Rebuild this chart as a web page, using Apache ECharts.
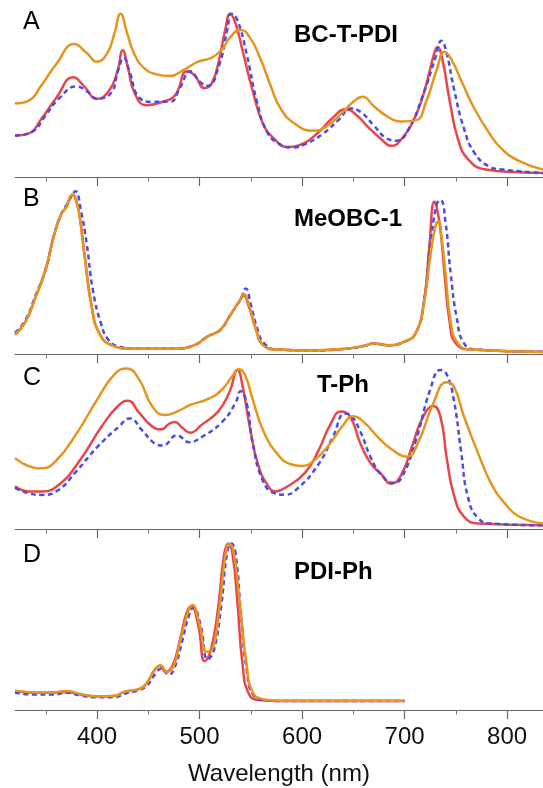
<!DOCTYPE html>
<html><head><meta charset="utf-8">
<script src="https://cdn.jsdelivr.net/npm/echarts@6/dist/echarts.min.js"></script>
<style>html,body{margin:0;padding:0;background:#fff}#c{width:543px;height:788px}</style>
</head><body><div id="c"></div>
<script>
// ---------- data ----------
const xMin = 320, xMax = 835;
const majorTicks = [400, 500, 600, 700, 800];
const minorTicks = [350, 450, 550, 650, 750];
const panelLetters = ['A', 'B', 'C', 'D'];
const panelNames = ['BC-T-PDI', 'MeOBC-1', 'T-Ph', 'PDI-Ph'];
const xTitle = 'Wavelength (nm)';

// Panel A: BC-T-PDI
const A_red = [[320,0.234],[333,0.245],[346,0.33],[360,0.445],[377,0.563],[387,0.515],[400,0.441],[412,0.49],[420,0.60],[425,0.716],[430,0.62],[437,0.47],[448,0.406],[464,0.425],[476,0.46],[488,0.598],[495,0.575],[505,0.502],[512,0.53],[519,0.66],[525,0.83],[530,0.923],[535,0.87],[542,0.713],[552,0.483],[562,0.30],[573,0.215],[585,0.17],[600,0.186],[616,0.253],[630,0.335],[643,0.383],[654,0.345],[664,0.285],[677,0.215],[687,0.176],[697,0.215],[711,0.349],[721,0.521],[728,0.68],[732,0.735],[737,0.66],[744,0.43],[752,0.215],[762,0.10],[779,0.042],[812,0.027],[835,0.023]];
const A_blue = [[320,0.234],[336,0.253],[350,0.349],[363,0.444],[380,0.511],[390,0.485],[400,0.444],[413,0.47],[421,0.61],[426,0.674],[432,0.59],[441,0.45],[454,0.425],[471,0.425],[481,0.505],[491,0.598],[500,0.540],[508,0.515],[519,0.63],[527,0.83],[531,0.923],[537,0.885],[546,0.693],[556,0.425],[566,0.253],[577,0.19],[590,0.167],[603,0.186],[620,0.243],[637,0.33],[647,0.387],[657,0.368],[670,0.291],[681,0.224],[692,0.205],[704,0.272],[718,0.464],[730,0.674],[736,0.770],[741,0.70],[748,0.502],[758,0.272],[768,0.138],[782,0.061],[796,0.042],[835,0.023]];
const A_orange = [[320,0.416],[333,0.43],[346,0.52],[360,0.636],[378,0.751],[390,0.70],[400,0.651],[410,0.70],[417,0.81],[423,0.923],[429,0.82],[436,0.70],[446,0.615],[458,0.58],[471,0.57],[485,0.607],[498,0.65],[512,0.675],[522,0.722],[530,0.79],[540,0.831],[549,0.789],[559,0.674],[569,0.521],[579,0.387],[593,0.301],[610,0.262],[623,0.282],[640,0.368],[650,0.425],[659,0.454],[670,0.40],[684,0.339],[697,0.314],[711,0.320],[721,0.425],[731,0.600],[739,0.708],[746,0.66],[756,0.535],[768,0.387],[782,0.253],[795,0.157],[812,0.090],[835,0.042]];

// Panel B: MeOBC-1
const B_red = [[320,0.11],[330,0.18],[340,0.32],[350,0.48],[358,0.67],[365,0.79],[370,0.83],[376,0.90],[379,0.88],[383,0.78],[388,0.55],[395,0.26],[402,0.12],[414,0.05],[434,0.03],[475,0.03],[495,0.05],[508,0.10],[520,0.135],[530,0.22],[539,0.30],[543,0.33],[548,0.27],[555,0.14],[562,0.05],[576,0.025],[610,0.02],[643,0.03],[660,0.045],[670,0.06],[684,0.05],[700,0.07],[711,0.12],[719,0.30],[724,0.60],[729,0.86],[731,0.84],[735,0.70],[739,0.45],[744,0.18],[750,0.06],[765,0.025],[835,0.012]];
const B_blue = [[320,0.12],[330,0.19],[340,0.33],[350,0.48],[358,0.67],[365,0.79],[370,0.84],[375,0.89],[379,0.92],[384,0.82],[390,0.62],[396,0.36],[404,0.17],[411,0.08],[420,0.045],[440,0.03],[475,0.03],[495,0.05],[508,0.10],[520,0.135],[530,0.22],[540,0.31],[545,0.37],[550,0.28],[556,0.15],[563,0.06],[576,0.025],[610,0.02],[643,0.03],[660,0.045],[670,0.06],[684,0.05],[700,0.07],[711,0.12],[719,0.30],[725,0.60],[731,0.84],[735,0.87],[740,0.74],[745,0.45],[751,0.20],[758,0.06],[770,0.025],[835,0.012]];
const B_orange = [[320,0.11],[330,0.18],[340,0.32],[350,0.48],[358,0.67],[365,0.79],[370,0.83],[376,0.90],[379,0.88],[383,0.78],[388,0.55],[395,0.26],[402,0.12],[414,0.05],[434,0.03],[475,0.03],[495,0.05],[508,0.10],[520,0.135],[530,0.22],[539,0.30],[543,0.34],[548,0.28],[555,0.14],[562,0.05],[576,0.025],[610,0.02],[643,0.03],[660,0.045],[670,0.06],[684,0.05],[700,0.07],[711,0.12],[719,0.29],[725,0.55],[730,0.72],[733,0.75],[736,0.66],[740,0.45],[745,0.18],[752,0.06],[765,0.025],[835,0.012]];

// Panel C: T-Ph
const C_red = [[320,0.244],[333,0.215],[346,0.215],[363,0.254],[383,0.39],[405,0.59],[420,0.70],[430,0.733],[441,0.665],[454,0.585],[463,0.57],[470,0.60],[476,0.612],[483,0.58],[491,0.55],[502,0.595],[518,0.671],[529,0.78],[537,0.909],[542,0.816],[549,0.583],[557,0.37],[566,0.254],[574,0.215],[586,0.244],[603,0.322],[616,0.448],[627,0.59],[638,0.671],[647,0.641],[657,0.486],[667,0.375],[677,0.315],[687,0.258],[697,0.312],[708,0.486],[718,0.641],[728,0.703],[735,0.641],[741,0.409],[748,0.196],[758,0.07],[772,0.031],[835,0.021]];
const C_blue = [[320,0.235],[333,0.205],[346,0.195],[360,0.215],[380,0.331],[400,0.467],[421,0.583],[432,0.632],[444,0.564],[456,0.49],[464,0.477],[478,0.535],[490,0.496],[502,0.525],[522,0.612],[535,0.719],[540,0.787],[546,0.719],[552,0.486],[562,0.273],[573,0.205],[583,0.196],[596,0.234],[616,0.37],[630,0.525],[642,0.66],[647,0.651],[657,0.554],[667,0.409],[677,0.312],[689,0.264],[697,0.293],[711,0.506],[725,0.797],[735,0.909],[741,0.884],[748,0.738],[755,0.448],[762,0.178],[772,0.06],[785,0.031],[835,0.021]];
const C_orange = [[320,0.405],[333,0.36],[346,0.347],[360,0.390],[380,0.545],[400,0.738],[417,0.884],[429,0.917],[441,0.855],[454,0.70],[466,0.651],[478,0.671],[491,0.709],[508,0.742],[522,0.797],[532,0.874],[538,0.913],[544,0.884],[552,0.738],[562,0.564],[576,0.428],[589,0.37],[600,0.36],[613,0.399],[627,0.486],[640,0.593],[650,0.645],[660,0.612],[674,0.525],[687,0.457],[702,0.413],[714,0.506],[728,0.719],[741,0.839],[748,0.816],[758,0.641],[772,0.428],[785,0.254],[799,0.138],[812,0.07],[835,0.031]];

// Panel D: PDI-Ph
const D_red = [[320,0.105],[340,0.095],[357,0.095],[370,0.10],[384,0.085],[400,0.075],[417,0.078],[427,0.10],[441,0.115],[448,0.145],[456,0.22],[461,0.245],[467,0.21],[474,0.25],[481,0.39],[487,0.53],[492,0.575],[499,0.46],[505,0.27],[511,0.33],[518,0.56],[524,0.86],[528,0.92],[532,0.87],[537,0.59],[542,0.25],[548,0.09],[558,0.055],[576,0.05],[700,0.05]];
const D_blue = [[320,0.095],[340,0.085],[357,0.085],[370,0.095],[384,0.08],[400,0.07],[417,0.07],[427,0.09],[441,0.11],[448,0.13],[457,0.20],[463,0.23],[470,0.195],[476,0.24],[483,0.38],[489,0.51],[494,0.565],[501,0.47],[508,0.28],[514,0.33],[521,0.57],[527,0.87],[531,0.92],[535,0.87],[540,0.56],[546,0.22],[553,0.08],[565,0.055],[580,0.05],[700,0.05]];
const D_orange = [[320,0.107],[340,0.097],[357,0.097],[370,0.105],[384,0.088],[400,0.075],[417,0.079],[427,0.101],[441,0.116],[448,0.144],[456,0.219],[462,0.247],[468,0.21],[475,0.247],[481,0.378],[488,0.528],[493,0.58],[500,0.472],[507,0.322],[512,0.331],[519,0.547],[525,0.846],[529,0.918],[533,0.884],[539,0.603],[546,0.247],[552,0.097],[562,0.06],[576,0.051],[700,0.051]];

// ---------- layout / style ----------
const layout = [
  { top: 0,   height: 177, letterY: 24,  nameY: 36 },
  { top: 177, height: 177, letterY: 201, nameY: 220 },
  { top: 354, height: 175, letterY: 380, nameY: 386 },
  { top: 529, height: 181, letterY: 557, nameY: 573 }
];
const seriesSets = [
  [A_red, A_blue, A_orange],
  [B_red, B_blue, B_orange],
  [C_red, C_blue, C_orange],
  [D_red, D_blue, D_orange]
];
const styles = [
  { color: '#E8464B', type: 'solid' },
  { color: '#4B4BE6', type: [5, 3.5] },
  { color: '#E5951E', type: 'solid' }
];
const GL = 15, GR = 0;
const font = 'Liberation Sans, Arial, sans-serif';

const grids = [], xAxes = [], yAxes = [], series = [], graphics = [];
layout.forEach((p, i) => {
  const last = i === layout.length - 1;
  grids.push({ left: GL, right: GR, top: p.top, height: p.height, containLabel: false });
  grids.push({ left: GL, right: GR, top: p.top, height: p.height, containLabel: false });
  const gMaj = 2 * i, gMin = 2 * i + 1;
  xAxes.push({
    type: 'value', gridIndex: gMaj, min: xMin, max: xMax,
    axisLine: { show: true, lineStyle: { color: '#666', width: 1.2 } },
    axisTick: { show: true, customValues: majorTicks, length: 9, lineStyle: { color: '#666', width: 1.2 } },
    axisLabel: { show: last, customValues: majorTicks, margin: 15, fontSize: 24, color: '#111', fontFamily: font },
    splitLine: { show: false },
    name: last ? xTitle : '', nameLocation: 'middle', nameGap: 52,
    nameTextStyle: { fontSize: 24, color: '#111', fontFamily: font }
  });
  xAxes.push({
    type: 'value', gridIndex: gMin, min: xMin, max: xMax,
    axisLine: { show: false },
    axisTick: { show: true, customValues: minorTicks, length: 4.5, lineStyle: { color: '#777', width: 1 } },
    axisLabel: { show: false }, splitLine: { show: false }
  });
  yAxes.push({ type: 'value', gridIndex: gMaj, min: 0, max: 1, show: false });
  yAxes.push({ type: 'value', gridIndex: gMin, min: 0, max: 1, show: false });
  seriesSets[i].forEach((data, k) => {
    series.push({
      type: 'line', xAxisIndex: gMaj, yAxisIndex: gMaj, data: data,
      showSymbol: false, symbol: 'none', smooth: 0.5,
      lineStyle: { color: styles[k].color, width: 2.5, type: styles[k].type },
      z: 2 + k, silent: true, clip: false
    });
  });
  graphics.push({
    type: 'text', left: 23, top: p.letterY - 14,
    style: { text: panelLetters[i], fontSize: 25, fontFamily: font, fill: '#000' }
  });
  graphics.push({
    type: 'text', left: i === 2 ? 317 : 294, top: p.nameY - 13,
    style: { text: panelNames[i], fontSize: 24, fontWeight: 'bold', fontFamily: font, fill: '#000' }
  });
});

const chart = echarts.init(document.getElementById('c'), null, { renderer: 'canvas' });
chart.setOption({
  animation: false,
  backgroundColor: '#fff',
  grid: grids, xAxis: xAxes, yAxis: yAxes, series: series, graphic: graphics
});
</script></body></html>
